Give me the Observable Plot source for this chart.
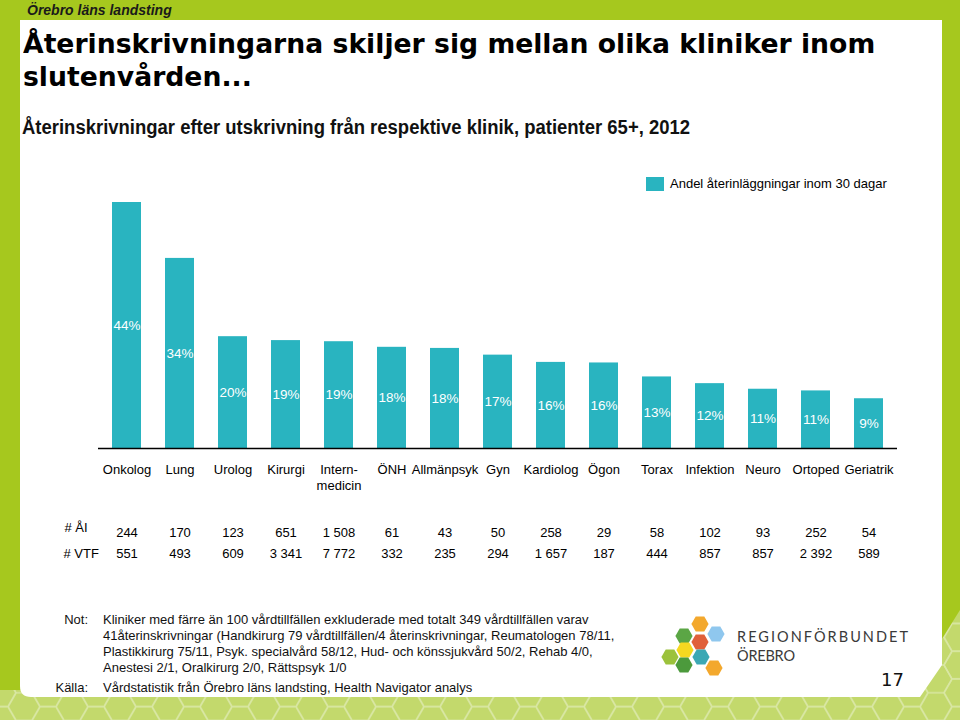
<!DOCTYPE html>
<html>
<head>
<meta charset="utf-8">
<script src="https://cdn.jsdelivr.net/npm/d3@7"></script>
<script src="https://cdn.jsdelivr.net/npm/@observablehq/plot@0.6"></script>
<style>
  html, body { margin: 0; padding: 0; background: #a6c81e; }
  #page { position: relative; width: 960px; height: 720px; overflow: hidden; font-family: "Liberation Sans", Arial, sans-serif; color: #000; }
  #bg { position: absolute; left: 0; top: 0; }
  .abs { position: absolute; white-space: nowrap; }
  #hdr { left: 27px; top: 3px; font-size: 14px; line-height: 14px; font-weight: bold; font-style: italic; color: #1a1a1a; }
  .title { left: 23px; font-family: "DejaVu Sans", Verdana, sans-serif; font-weight: bold; font-size: 27px; line-height: 33px; transform-origin: 0 0; }
  #t1 { top: 27px; }
  #t2 { top: 60px; }
  #sub { left: 22px; top: 117px; font-size: 20px; line-height: 20px; font-weight: bold; font-family: "Liberation Sans Narrow", "Liberation Sans", Arial, sans-serif; transform-origin: 0 0; color: #111; }
  #legend { left: 646px; top: 176px; font-size: 13px; line-height: 14px; }
  #legend .sw { position: absolute; left: 0; top: 1px; width: 18px; height: 14px; }
  #legend .lt { position: absolute; left: 24px; top: 1px; white-space: nowrap; }
  #chart { position: absolute; left: 0; top: 0; }
  #notes { left: 0; top: 612px; font-size: 13px; line-height: 16px; color: #111; }
  #notes .lab { position: absolute; width: 88px; text-align: right; }
  #notes .txt { position: absolute; left: 103px; }
  #pnum { left: 881px; top: 669px; font-family: "DejaVu Sans", Verdana, sans-serif; font-size: 18px; line-height: 22px; color: #111; }
  #logo { position: absolute; left: 650px; top: 605px; }
</style>
</head>
<body>
<div id="page">
  <svg id="bg" width="960" height="720">
    <defs>
      <pattern id="hex" width="48" height="27.71" patternUnits="userSpaceOnUse">
        <rect width="48" height="27.71" fill="#c3d96c"/>
        <g fill="none" stroke="#d9e7a3" stroke-width="1.5">
          <path d="M16,0 L8,13.86 L-8,13.86 L-16,0 L-8,-13.86 L8,-13.86 Z"/>
          <path d="M64,0 L56,13.86 L40,13.86 L32,0 L40,-13.86 L56,-13.86 Z"/>
          <path d="M16,27.71 L8,41.57 L-8,41.57 L-16,27.71 L-8,13.86 L8,13.86 Z"/>
          <path d="M64,27.71 L56,41.57 L40,41.57 L32,27.71 L40,13.86 L56,13.86 Z"/>
          <path d="M40,13.86 L32,27.71 L16,27.71 L8,13.86 L16,0 L32,0 Z"/>
        </g>
      </pattern>
    </defs>
    <rect x="0" y="0" width="960" height="720" fill="#a6c81e"/>
    <path d="M0,690 L910,690 L960,610 L960,720 L0,720 Z" fill="url(#hex)"/>
    <path d="M20,20 H942 V665 L920,697 H31 Q20,697 20,686 Z" fill="#ffffff"/>
  </svg>

  <div id="hdr" class="abs">Örebro läns landsting</div>
  <div id="t1" class="abs title">Återinskrivningarna skiljer sig mellan olika kliniker inom</div>
  <div id="t2" class="abs title">slutenvården...</div>
  <div id="sub" class="abs">Återinskrivningar efter utskrivning från respektive klinik, patienter 65+, 2012</div>
  <div id="legend" class="abs"><div class="sw" id="sw"></div><div class="lt">Andel återinläggningar inom 30 dagar</div></div>

  <div id="chart"></div>

  <div id="notes" class="abs">
    <div class="lab" style="top:0px">Not:</div>
    <div class="txt" style="top:0px">Kliniker med färre än 100 vårdtillfällen exkluderade med totalt 349 vårdtillfällen varav<br>41återinskrivningar (Handkirurg 79 vårdtillfällen/4 återinskrivningar, Reumatologen 78/11,<br>Plastikkirurg 75/11, Psyk. specialvård 58/12, Hud- och könssjukvård 50/2, Rehab 4/0,<br>Anestesi 2/1, Oralkirurg 2/0, Rättspsyk 1/0</div>
    <div class="lab" style="top:68px">Källa:</div>
    <div class="txt" style="top:68px">Vårdstatistik från Örebro läns landsting, Health Navigator analys</div>
  </div>

  <svg id="logo" width="270" height="75"></svg>
  <div id="pnum" class="abs">17</div>
</div>

<script>
// ---- Data ----
const categories = ["Onkolog", "Lung", "Urolog", "Kirurgi", "Intern-\nmedicin", "ÖNH", "Allmänpsyk", "Gyn", "Kardiolog", "Ögon", "Torax", "Infektion", "Neuro", "Ortoped", "Geriatrik"];
const shares = [44.0, 34.0, 20.0, 19.3, 19.1, 18.1, 17.9, 16.7, 15.4, 15.3, 12.8, 11.6, 10.6, 10.3, 8.9];
const shareLabels = ["44%", "34%", "20%", "19%", "19%", "18%", "18%", "17%", "16%", "16%", "13%", "12%", "11%", "11%", "9%"];
const countAI = [244, 170, 123, 651, 1508, 61, 43, 50, 258, 29, 58, 102, 93, 252, 54];
const countVTF = [551, 493, 609, 3341, 7772, 332, 235, 294, 1657, 187, 444, 857, 857, 2392, 589];
const rowLabels = ["# ÅI", "# VTF"];

const barColor = "#29b4c0";
document.getElementById("sw").style.background = barColor;

const fmt = d3.formatLocale({decimal: ",", thousands: " ", grouping: [3], currency: ["", " kr"]}).format(",d");
const table = categories.map((c, i) => ({
  category: c, share: shares[i], label: shareLabels[i], ai: fmt(countAI[i]), vtf: fmt(countVTF[i])
}));

const chart = Plot.plot({
  width: 960,
  height: 720,
  marginLeft: 98,
  marginRight: 63,
  marginTop: 202,
  marginBottom: 272,
  style: {background: "transparent", fontFamily: "'Liberation Sans', Arial, sans-serif", fontSize: "13px", overflow: "visible", color: "#000"},
  x: {domain: categories, paddingInner: 0.45, paddingOuter: 0.225, axis: null},
  y: {domain: [0, 44], axis: null},
  marks: [
    Plot.barY(table, {x: "category", y: "share", fill: barColor}),
    Plot.ruleY([0], {stroke: "#000", strokeWidth: 1.5}),
    Plot.text(table, {x: "category", y: d => d.share / 2, text: "label", fill: "white", fontSize: 13.5}),
    Plot.text(table, {x: "category", text: "category", frameAnchor: "bottom", lineAnchor: "top", dy: 13, lineHeight: 1.3, fill: "#000"}),
    Plot.text(table, {x: "category", text: "ai", frameAnchor: "bottom", lineAnchor: "bottom", dy: 88, fill: "#000"}),
    Plot.text(table, {x: "category", text: "vtf", frameAnchor: "bottom", lineAnchor: "bottom", dy: 109, fill: "#000"}),
    Plot.text([rowLabels[0]], {text: d => d, frameAnchor: "bottom-left", lineAnchor: "bottom", dx: -34, dy: 83, fill: "#000"}),
    Plot.text([rowLabels[1]], {text: d => d, frameAnchor: "bottom-left", lineAnchor: "bottom", dx: -35, dy: 109, fill: "#000"})
  ]
});
document.getElementById("chart").appendChild(chart);

// ---- Fit title & subtitle widths ----
const t1 = document.getElementById("t1"), t2 = document.getElementById("t2"), sub = document.getElementById("sub");
const s1 = 852 / t1.offsetWidth;
t1.style.transform = `scaleX(${s1})`;
t2.style.transform = `scaleX(${s1})`;
sub.style.transform = `scaleX(${668 / sub.offsetWidth})`;

// ---- Logo ----
const logo = d3.select("#logo");
const hexes = [
  [50, 19, "#f3a82d"], [34, 31, "#5ba645"], [66, 29, "#8fc7ee"], [50, 37, "#e0603a"],
  [35, 45, "#f5d820"], [51, 52, "#3ba8b4"], [20, 52, "#9cc23c"], [34, 60, "#4c9a3c"], [64, 63, "#f3a82d"]
];
const r = 8.6;
logo.selectAll("polygon").data(hexes).join("polygon")
  .attr("points", ([cx, cy]) => d3.range(6).map(k => {
    const a = Math.PI / 3 * k;
    return [cx + r * Math.cos(a), cy + r * Math.sin(a)].join(",");
  }).join(" "))
  .attr("fill", d => d[2]);
logo.append("text").attr("x", 87).attr("y", 37).attr("font-family", "Lato, 'Open Sans', sans-serif")
  .attr("font-size", 14.5).attr("fill", "#3a3a3a").attr("textLength", 171).attr("lengthAdjust", "spacing")
  .text("REGIONFÖRBUNDET");
logo.append("text").attr("x", 87).attr("y", 56).attr("font-family", "Lato, 'Open Sans', sans-serif")
  .attr("font-size", 14.5).attr("fill", "#3a3a3a").attr("textLength", 58).attr("lengthAdjust", "spacing")
  .text("ÖREBRO");
</script>
</body>
</html>
